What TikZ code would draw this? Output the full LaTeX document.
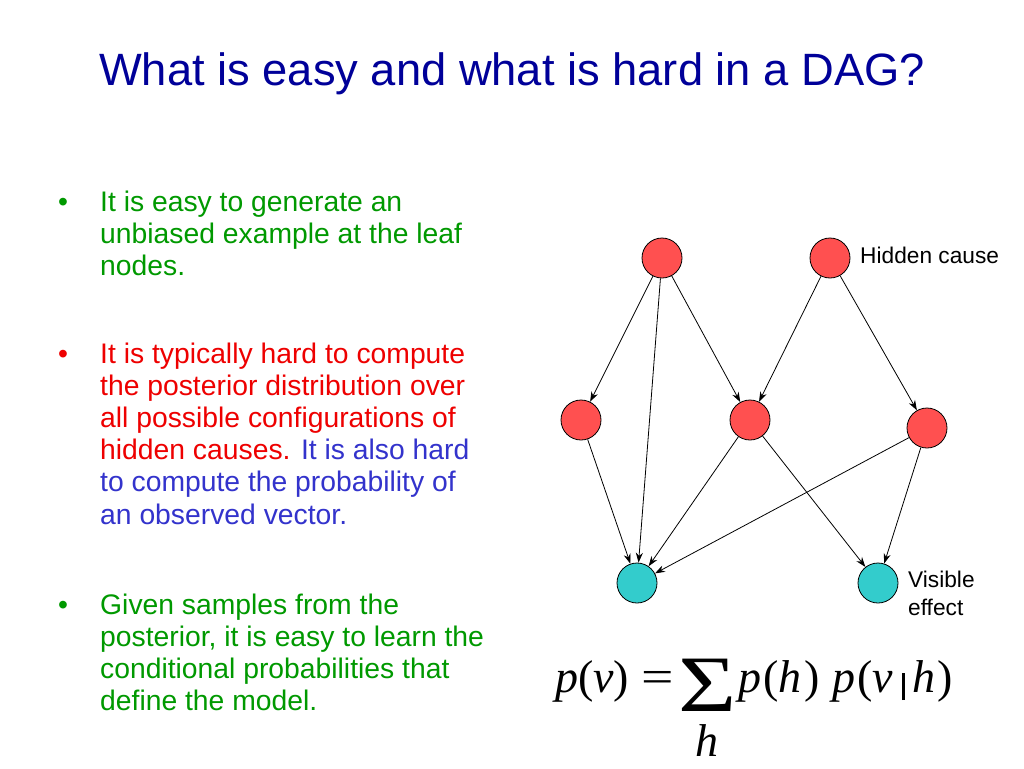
\documentclass[tikz,border=0pt]{standalone}
\usepackage{fontspec}
\usepackage{graphicx}
\setmainfont{Liberation Sans}
\newfontfamily\eqfont{Liberation Serif}
\usetikzlibrary{arrows.meta}
\definecolor{titleblue}{RGB}{0,0,153}
\definecolor{txtgreen}{RGB}{0,153,0}
\definecolor{txtred}{RGB}{238,0,0}
\definecolor{txtblue}{RGB}{51,51,204}
\definecolor{hidfill}{RGB}{255,80,80}
\definecolor{visfill}{RGB}{51,204,204}
\begin{document}
\begin{tikzpicture}[x=1pt,y=-1pt,
  hid/.style={circle,draw=black,line width=0.8pt,fill=hidfill,minimum size=40pt,inner sep=0pt},
  vis/.style={hid,fill=visfill},
  edge/.style={-{Stealth[length=10pt,width=7pt]},line width=0.8pt},
  txtline/.style={anchor=base west,inner sep=0pt,font=\fontsize{28.3}{32}\selectfont},
  lbl/.style={anchor=base west,inner sep=0pt,font=\fontsize{22.7}{27}\selectfont},
  eqpart/.style={anchor=base west,inner sep=0pt,font=\eqfont\fontsize{46}{46}\selectfont}
]
\useasboundingbox (0,0) rectangle (1024,768);
\fill[white] (0,0) rectangle (1024,768);

\node[anchor=base,inner sep=0pt,font=\fontsize{45.3}{54}\selectfont,text=titleblue] (title) at (512,85) {What is easy and what is hard in a DAG?};

% bullets
\node[txtline,text=txtgreen] (dot1) at (58,211) {•};
\foreach \t [count=\i] in {{It is easy to generate an},{unbiased example at the leaf},{nodes.}}
  \node[txtline,text=txtgreen] (b1-\i) at (100,{211+32*(\i-1)}) {\t};

\node[txtline,text=txtred] (dot2) at (58,363) {•};
\foreach \t [count=\i] in {{It is typically hard to compute},{the posterior distribution over},{all possible configurations of},{hidden causes. \textcolor{txtblue}{It is also hard}},{\textcolor{txtblue}{to compute the probability of}},{\textcolor{txtblue}{an observed vector.}}}
  \node[txtline,text=txtred] (b2-\i) at (100,{363+32.2*(\i-1)}) {\t};

\node[txtline,text=txtgreen] (dot3) at (58,614) {•};
\foreach \t [count=\i] in {{Given samples from the},{posterior, it is easy to learn the},{conditional probabilities that},{define the model.}}
  \node[txtline,text=txtgreen] (b3-\i) at (100,{614+32.2*(\i-1)}) {\t};

% graph
\node[hid] (A) at (662,258) {};
\node[hid] (B) at (830,258) {};
\node[hid] (C) at (581,420) {};
\node[hid] (D) at (750,420) {};
\node[hid] (E) at (927,428) {};
\node[vis] (F) at (637,583) {};
\node[vis] (G) at (878,583) {};

\draw[edge] (A) -- (C);
\draw[edge] (A) -- (F);
\draw[edge] (A) -- (D);
\draw[edge] (B) -- (D);
\draw[edge] (B) -- (E);
\draw[edge] (C) -- (F);
\draw[edge] (D) -- (F);
\draw[edge] (D) -- (G);
\draw[edge] (E) -- (F);
\draw[edge] (E) -- (G);

\node[lbl] (hidlbl) at (860,263) {Hidden cause};
\node[lbl] (vislbl1) at (908,587) {Visible};
\node[lbl] (vislbl2) at (908,615) {effect};

% equation
\node[eqpart] (eqpv) at (555,692) {\textit{p}(\textit{v})};
\node[eqpart] (eqeq) at (641,692) {\scalebox{1.25}[1]{=}};
\node[anchor=base,inner sep=0pt,text depth=0pt,font=\eqfont\fontsize{80}{80}\selectfont] (eqsum) at (708,711) {\scalebox{1.25}[1]{Σ}};
\node[anchor=base,inner sep=0pt,text height=28pt,font=\eqfont\fontsize{46}{46}\selectfont] (eqh) at (707,756) {\textit{h}};
\node[eqpart] (eqph) at (738,692) {\textit{p}\kern2pt(\textit{h}\kern3pt)};
\node[eqpart] (eqpvh) at (832,692) {\textit{p}\kern2pt(\textit{v}\kern9pt\rule[-8pt]{2.6pt}{27pt}\kern8pt\textit{h}\kern2pt)};
\end{tikzpicture}
\end{document}
